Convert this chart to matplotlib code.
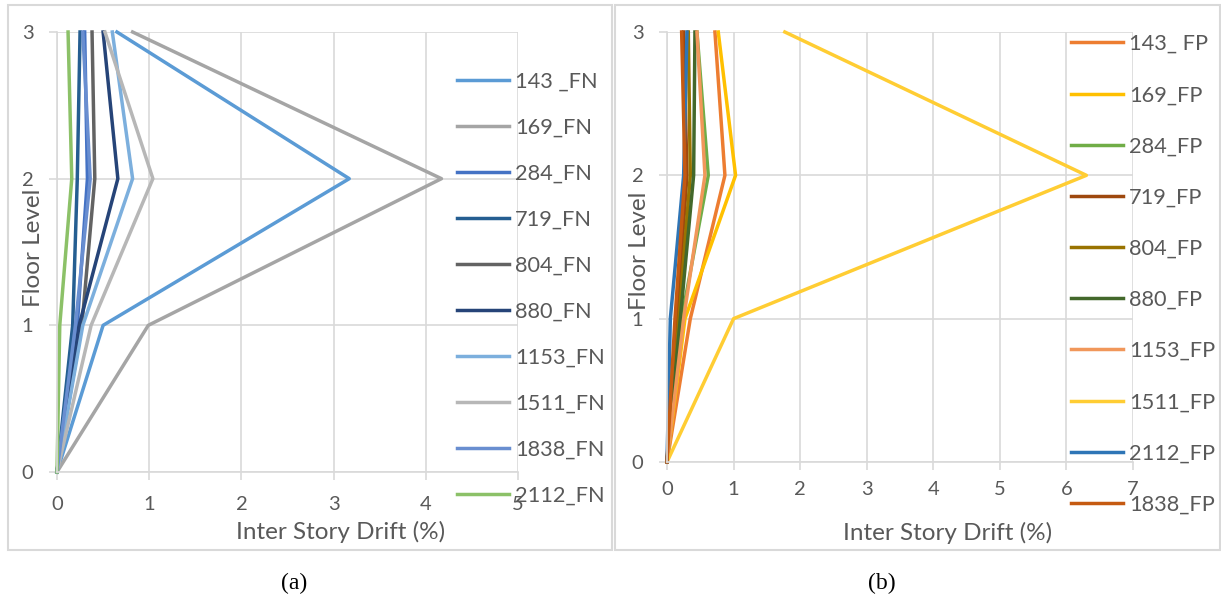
import matplotlib
matplotlib.use("Agg")
import matplotlib.pyplot as plt
from matplotlib.patches import Rectangle

plt.rcParams['font.family'] = ['Lato', 'DejaVu Sans']

# datos: deriva de entrepiso (%) en cada nivel
floors = [0, 1, 2, 3]

fn_names = ['143 _FN', '169_FN', '284_FN', '719_FN', '804_FN',
            '880_FN', '1153_FN', '1511_FN', '1838_FN', '2112_FN']
fn_drift = [
    [0, 0.50, 3.17, 0.65],
    [0, 0.99, 4.17, 0.82],
    [0, 0.22, 0.33, 0.30],
    [0, 0.17, 0.22, 0.25],
    [0, 0.27, 0.41, 0.38],
    [0, 0.24, 0.66, 0.50],
    [0, 0.28, 0.82, 0.60],
    [0, 0.37, 1.04, 0.52],
    [0, 0.20, 0.36, 0.28],
    [0, 0.03, 0.16, 0.12],
]
fn_colors = ['#5B9BD5', '#A5A5A5', '#4472C4', '#255E91', '#636363',
             '#264478', '#7CAFDD', '#B7B7B7', '#698ED0', '#8CC168']

fp_names = ['143_ FP', '169_FP', '284_FP', '719_FP', '804_FP',
            '880_FP', '1153_FP', '1511_FP', '2112_FP', '1838_FP']
fp_drift = [
    [0, 0.35, 0.87, 0.72],
    [0, 0.27, 1.03, 0.77],
    [0, 0.22, 0.62, 0.45],
    [0, 0.15, 0.30, 0.25],
    [0, 0.18, 0.35, 0.32],
    [0, 0.20, 0.40, 0.42],
    [0, 0.25, 0.57, 0.45],
    [0, 1.00, 6.30, 1.77],
    [0, 0.05, 0.25, 0.30],
    [0, 0.12, 0.27, 0.22],
]
fp_colors = ['#ED7D31', '#FFC000', '#70AD47', '#9E480E', '#997300',
             '#43682B', '#F1975A', '#FFCD33', '#2E75B6', '#C55A11']

grid_c = '#D9D9D9'
text_c = '#595959'
W, H = 1221, 609

fig = plt.figure(figsize=(12.21, 6.09), dpi=100)

# marcos de cada panel
fig.patches.append(Rectangle((8 / W, 1 - 550 / H), 604 / W, 545 / H,
                             transform=fig.transFigure, fill=False,
                             edgecolor=grid_c, linewidth=1.5))
fig.patches.append(Rectangle((615 / W, 1 - 550 / H), 605 / W, 545 / H,
                             transform=fig.transFigure, fill=False,
                             edgecolor=grid_c, linewidth=1.5))


def panel(rect, names, drift, colors, xmax, leg_anchor, leg_spacing,
          xpad, xlab_pos, ylab_pos):
    ax = fig.add_axes(rect)
    for name, d, c in zip(names, drift, colors):
        ax.plot(d, floors, color=c, linewidth=2.5, label=name, clip_on=False)
    ax.set_xlim(0, xmax)
    ax.set_ylim(0, 3)
    ax.set_xticks(range(xmax + 1))
    ax.set_yticks(floors)
    ax.grid(True, color=grid_c, linewidth=1.2)
    ax.set_axisbelow(True)
    for s in ['top', 'right']:
        ax.spines[s].set_visible(False)
    for s in ['left', 'bottom']:
        ax.spines[s].set_color(grid_c)
        ax.spines[s].set_linewidth(1.2)
    ax.tick_params(colors=grid_c, labelcolor=text_c, labelsize=14.5,
                   length=6, width=1.2)
    ax.tick_params(axis='x', pad=xpad)
    ax.tick_params(axis='y', pad=11)
    ax.set_xlabel('Inter Story Drift (%)', color=text_c, fontsize=17.5, va='center')
    ax.set_ylabel('Floor Level', color=text_c, fontsize=17.5, va='center')
    ax.xaxis.set_label_coords(*xlab_pos)
    ax.yaxis.set_label_coords(*ylab_pos)
    ax.legend(loc='upper left', bbox_to_anchor=leg_anchor,
              bbox_transform=fig.transFigure, frameon=False,
              fontsize=15.7, labelcolor=text_c, handlelength=2.4,
              handletextpad=0.25, labelspacing=leg_spacing, borderpad=0,
              borderaxespad=0)
    return ax


panel([57 / W, 1 - 472 / H, 461 / W, 440 / H],
      fn_names, fn_drift, fn_colors, 5, (457 / W, 1 - 72 / H), 1.19,
      11, (0.616, -0.136), (-0.052, 0.509))
panel([667 / W, 1 - 462 / H, 466 / W, 430 / H],
      fp_names, fp_drift, fp_colors, 7, (1071 / W, 1 - 34 / H), 1.43,
      8, (0.603, -0.165), (-0.058, 0.49))

fig.text(294 / W, 1 - 583 / H, '(a)', family='Liberation Serif',
         fontsize=17, ha='center', va='center')
fig.text(882 / W, 1 - 583 / H, '(b)', family='Liberation Serif',
         fontsize=17, ha='center', va='center')

fig.savefig('out.png', dpi=100)
